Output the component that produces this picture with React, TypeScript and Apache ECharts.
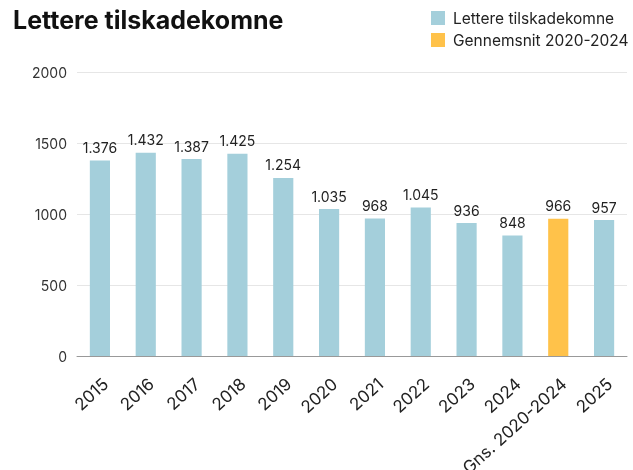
import React, { useEffect, useRef } from "react";
import * as echarts from "echarts";

const categories = ["2015", "2016", "2017", "2018", "2019", "2020", "2021", "2022", "2023", "2024", "Gns. 2020-2024", "2025"];
const yearValues: (number | string)[] = [1376, 1432, 1387, 1425, 1254, 1035, 968, 1045, 936, 848, "-", 957];
const avgValues: (number | string)[] = ["-", "-", "-", "-", "-", "-", "-", "-", "-", "-", 966, "-"];
const seriesNames = ["Lettere tilskadekomne", "Gennemsnit 2020-2024"];
const yTicks = { min: 0, max: 2000, interval: 500 };

const fmt = (v: number) => {
  const s = String(Math.round(v));
  return s.replace(/\B(?=(\d{3})+(?!\d))/g, ".");
};

export default function App() {
  const ref = useRef<HTMLDivElement>(null);
  useEffect(() => {
    if (!ref.current) return;
    const chart = echarts.init(ref.current, null, { renderer: "svg" });
    const font = "Inter, 'Noto Sans', sans-serif";
    const label = {
      show: true,
      position: "top",
      distance: 6,
      color: "#222",
      fontSize: 14,
      fontFamily: font,
      formatter: (p: any) => fmt(p.value),
    };
    chart.setOption({
      animation: false,
      title: {
        text: "Lettere tilskadekomne",
        left: 8,
        top: 2,
        textStyle: { fontFamily: font, fontSize: 25, fontWeight: "bold", color: "#111" },
      },
      legend: {
        orient: "vertical",
        left: 426,
        top: 5,
        itemWidth: 14,
        itemHeight: 14,
        itemGap: 6,
        icon: "rect",
        textStyle: { fontFamily: font, fontSize: 15.5, color: "#222", padding: [0, 0, 0, 3] },
        data: seriesNames,
      },
      grid: { left: 77, right: 6, top: 72, bottom: 114, containLabel: false, outerBoundsMode: "none" },
      xAxis: {
        type: "category",
        data: categories,
        axisTick: { show: false },
        axisLine: { lineStyle: { color: "#999" } },
        axisLabel: {
          rotate: 42,
          fontFamily: font,
          fontSize: 17,
          color: "#222",
          margin: 19,
          interval: 0,
          verticalAlign: "top",
        },
      },
      yAxis: {
        type: "value",
        min: yTicks.min,
        max: yTicks.max,
        interval: yTicks.interval,
        axisLabel: { fontFamily: font, fontSize: 14, color: "#333", margin: 10, formatter: (v: number) => String(v) },
        splitLine: { lineStyle: { color: "#e6e6e6" } },
      },
      series: [
        {
          name: seriesNames[0],
          type: "bar",
          stack: "a",
          data: yearValues,
          barWidth: "44%",
          itemStyle: { color: "#A4CFDB" },
          label,
        },
        {
          name: seriesNames[1],
          type: "bar",
          stack: "a",
          data: avgValues,
          barWidth: "44%",
          itemStyle: { color: "#FFC24A" },
          label,
        },
      ],
    });
    return () => chart.dispose();
  }, []);
  return <div ref={ref} style={{ position: "fixed", left: 0, top: 0, width: 633, height: 470 }} />;
}
